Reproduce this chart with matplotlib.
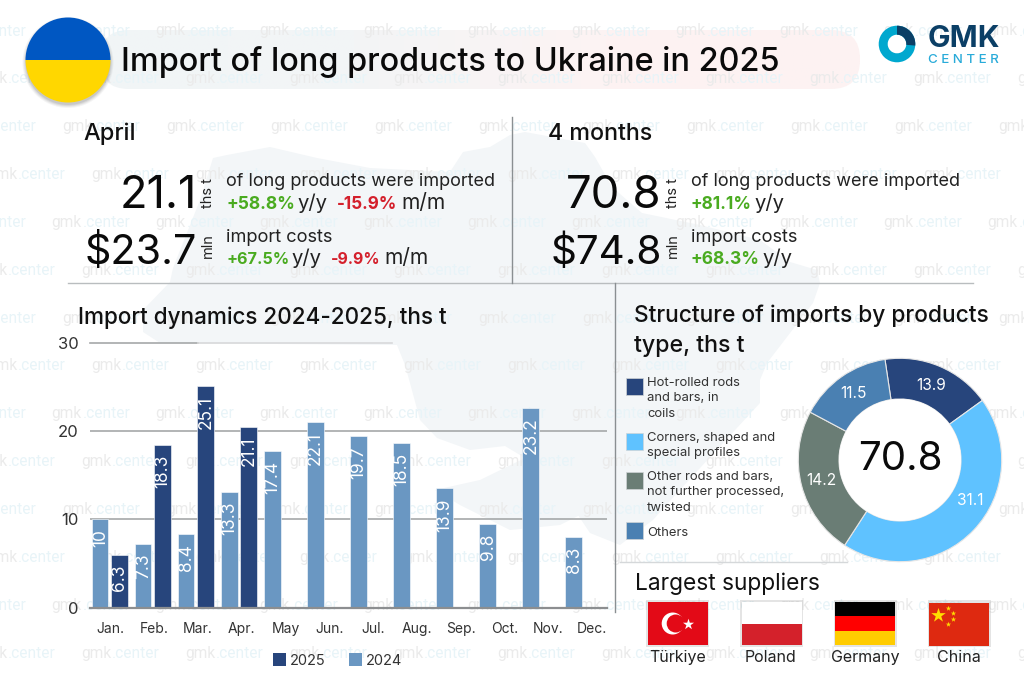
import numpy as np
import matplotlib
matplotlib.use("Agg")
import matplotlib.pyplot as plt
from matplotlib.patches import Circle, Rectangle, Polygon, FancyBboxPatch, Wedge
from matplotlib.colors import LinearSegmentedColormap
from matplotlib.textpath import TextPath
from matplotlib.font_manager import FontProperties

FONT = "Inter"
plt.rcParams['font.family'] = [FONT, 'DejaVu Sans']

months = ["Jan.", "Feb.", "Mar.", "Apr.", "May", "Jun.", "Jul.", "Aug.", "Sep.", "Oct.", "Nov.", "Dec."]
labels_2024 = ["10", "7.3", "8.4", "13.3", "17.4", "22.1", "19.7", "18.5", "13.9", "9.8", "23.2", "8.3"]
labels_2025 = ["6.3", "18.3", "25.1", "21.1"]
# bar lengths as drawn in the reference (they differ slightly from the printed labels)
bars_2024 = [10.0, 7.24, 8.3, 13.1, 17.76, 21.0, 19.4, 18.6, 13.5, 9.5, 22.66, 8.0]
bars_2025 = [5.96, 18.4, 25.07, 20.5]
y_ticks = [0, 10, 20, 30]

struct_names = ["Hot-rolled rods\nand bars, in\ncoils", "Corners, shaped and\nspecial profiles",
                "Other rods and bars,\nnot further processed,\ntwisted", "Others"]
struct_labels = ["13.9", "31.1", "14.2", "11.5"]
struct_drawn = [12.3, 31.2, 16.7, 10.5]
struct_total = "70.8"
suppliers = ["Türkiye", "Poland", "Germany", "China"]

C_25, C_24 = "#27457c", "#6a97c2"
C_STRUCT = ["#27457c", "#5fc2ff", "#6a7d75", "#4a80b2"]
GREEN, RED = "#4aab20", "#d4202c"
INK = "#111111"

fig = plt.figure(figsize=(10.24, 6.83), dpi=100, facecolor="white")
bg = fig.add_axes([0, 0, 1, 1])
bg.set_xlim(0, 1024); bg.set_ylim(683, 0); bg.axis("off")


def T(x, y, s, width=None, size=None, color=INK, weight="normal", ha="left", va="baseline",
      rotation=0, z=6, family=FONT):
    if width is not None:
        fp = FontProperties(family=family, weight=weight, size=100)
        w100 = TextPath((0, 0), s, prop=fp).get_extents().width * 100 / 72
        size = 100 * width / w100
    return bg.text(x, y, s, fontsize=size, color=color, fontweight=weight, ha=ha, va=va,
                   rotation=rotation, zorder=z, family=family)


# --- Ukraine map silhouette (decorative background)
map_outline = [(213,158),(227,155),(270,147),(317,158),(370,168),(450,172),(463,152),(490,147),(510,135),
               (525,132),(585,143),(595,157),(612,187),(642,213),(700,225),(760,240),(790,262),(817,270),
               (820,283),(813,303),(787,337),(767,363),(760,380),(760,403),(677,493),(653,520),(620,545),
               (590,533),(570,503),(590,510),(560,525),(510,530),(460,505),(435,490),(480,480),(525,458),
               (505,446),(470,450),(437,438),(420,420),(410,383),(405,365),(397,345),(160,343),(143,332),
               (143,310),(170,282),(173,268),(200,200)]
bg.add_patch(Polygon(map_outline, closed=True, fc="#f3f6f8", ec="none", zorder=1))

# --- title banner with a soft gradient
cmap = LinearSegmentedColormap.from_list("b", ["#f1f5f7", "#f3f5f6", "#fdf3f3", "#fdf2f2"])
im = bg.imshow(np.linspace(0, 1, 256)[None, :], extent=(100, 860, 89, 30), cmap=cmap, aspect="auto", zorder=1.5)
pill = FancyBboxPatch((100, 30), 760, 59, boxstyle="round,pad=0,rounding_size=29", fc="none", ec="none")
bg.add_patch(pill)
im.set_clip_path(pill)
bg.set_xlim(0, 1024); bg.set_ylim(683, 0)

# --- watermark
offs = [51.7, 81, 62, 91]
for r in range(14):
    y = 31 + 47.85 * r
    off = offs[r % 4]
    for c in range(-1, 10):
        x = off + 104 * c
        bg.text(x, y, "gmk", fontsize=11.2, color="#ebebeb", family="Roboto", ha="left", va="center", zorder=2)
        bg.text(x + 31, y, ".center", fontsize=11.2, color="#e8f4f8", family="Roboto", ha="left", va="center", zorder=2)

# --- flag circle
for dr, a in [(3, .06), (2, .08), (1, .10), (0, .12)]:
    bg.add_patch(Circle((68, 62.5), 42.5 + dr, fc="#555555", alpha=a, ec="none", zorder=3))
bg.add_patch(Wedge((68, 60), 42.5, 180, 360, fc="#0057c2", ec="none", zorder=4))
bg.add_patch(Wedge((68, 60), 42.5, 0, 180, fc="#ffd700", ec="none", zorder=4))

# --- logo
bg.add_patch(Wedge((897, 44), 18.3, 0, 360, width=9, fc="#00a8cf", ec="none", zorder=4))
bg.add_patch(Wedge((897, 44), 18.3, -90, 5, width=9, fc="#0b3f66", ec="none", zorder=5))
T(928, 47, "GMK", width=70, color="#0b3f66", weight="bold")
T(928, 63, "C E N T E R", width=70, color="#29abd9", weight="medium")

# --- headings
T(121, 71, "Import of long products to Ukraine in 2025", width=654, weight="medium", color="#0a0a0a")
T(83, 140, "April", width=50, weight="medium")
T(548, 140, "4 months", width=102, weight="medium")
T(78, 324, "Import dynamics 2024-2025, ths t", width=367, weight="medium")
T(634, 322, "Structure of imports by products", width=353, weight="medium")
T(634, 352, "type, ths t", width=110, weight="medium")
T(635, 590, "Largest suppliers", width=182, weight="normal")

# --- dividers
DIV = "#b9bdbf"
bg.plot([68, 973], [283, 283], color=DIV, lw=1, zorder=3)
bg.plot([511.5, 511.5], [117, 283], color="#8a8f92", lw=1, zorder=3)
bg.plot([615, 615], [283, 612], color="#8a8f92", lw=1, zorder=3)
bg.plot([620, 847], [562, 562], color="#d5d8da", lw=1, zorder=3)

# --- KPI blocks
def kpi(xnum_r, xdesc, big1, w1, big2, w2, unit_x, line1, line2a, line3, line4):
    T(xnum_r, 208, big1, width=w1, ha="right", color="#0a0a0a")
    T(xnum_r, 264, big2, width=w2, ha="right", color="#0a0a0a")
    T(unit_x, 208, "ths t", size=10.5, rotation=90, ha="center", va="bottom", color="#222222")
    T(unit_x, 258, "mln", size=10.5, rotation=90, ha="center", va="bottom", color="#222222")
    T(xdesc, 186, line1, width=268, color="#222222")
    T(xdesc, 242, line3, width=105, color="#222222")
    for y, pieces in ((209, line2a), (264, line4)):
        for s, x, w, col, wt in pieces:
            T(x, y, s, width=w, color=col, weight=wt)

kpi(197, 226, "21.1", 70, "$23.7", 108, 208, "of long products were imported",
    [("+58.8%", 226, 66, GREEN, "bold"), ("y/y", 297, 29, "#222222", "normal"),
     ("-15.9%", 337, 58, RED, "bold"), ("m/m", 401, 41, "#222222", "normal")],
    "import costs",
    [("+67.5%", 226, 60, GREEN, "bold"), ("y/y", 291, 29, "#222222", "normal"),
     ("-9.9%", 331, 47, RED, "bold"), ("m/m", 384, 41, "#222222", "normal")])
kpi(662, 691, "70.8", 91, "$74.8", 107, 673, "of long products were imported",
    [("+81.1%", 691, 58, GREEN, "bold"), ("y/y", 754, 29, "#222222", "normal")],
    "import costs",
    [("+68.3%", 691, 66, GREEN, "bold"), ("y/y", 762, 29, "#222222", "normal")])

# --- bar chart
x0, x1, y0, y30 = 90, 607, 607.7, 342.7
ax = fig.add_axes([x0 / 1024, (683 - y0) / 683, (x1 - x0) / 1024, (y0 - y30) / 683])
ax.patch.set_alpha(0)
ax.set_xlim(-0.5, 11.5); ax.set_ylim(0, 30)
for s in ax.spines.values():
    s.set_visible(False)
for v in y_ticks[1:3]:
    ax.axhline(v, color="#a6a8a9", lw=1.2, zorder=1)
ax.plot([-0.5, 2.0], [30, 30], color="#a6a8a9", lw=1.2, zorder=1, clip_on=False)
ax.plot([2.0, 6.5], [30, 30], color="#d8d9da", lw=1.2, zorder=1, clip_on=False)
ax.plot([-0.5, 11.5], [0, 0], color="#8c8e90", lw=1.6, zorder=4, clip_on=False)
pos = np.arange(12)
b24 = ax.bar(pos - 0.27, bars_2024, width=0.39, color=C_24, ec="white", lw=0.4, zorder=3)
b25 = ax.bar(pos[:4] + 0.18, bars_2025, width=0.39, color=C_25, ec="white", lw=0.4, zorder=3)
for bars, labs in ((b24, labels_2024), (b25, labels_2025)):
    for r, lab in zip(bars, labs):
        ax.annotate(lab, (r.get_x() + r.get_width() / 2, r.get_height()), xytext=(0.3, -7),
                    textcoords="offset points", rotation=90, ha="center", va="top",
                    color="white", fontsize=12.5, zorder=5)
ax.set_yticks(y_ticks)
ax.set_yticklabels([str(v) for v in y_ticks], fontsize=12, color="#333333")
ax.tick_params(axis="y", length=0, pad=8)
ax.set_xticks(pos * 1.017 - 0.03)
ax.set_xticklabels(months, fontsize=10, color="#333333")
ax.tick_params(axis="x", length=0, pad=10)
bg.add_patch(Rectangle((273, 653), 13, 13, fc=C_25, ec="none", zorder=5))
bg.add_patch(Rectangle((349, 653), 13, 13, fc=C_24, ec="none", zorder=5))
T(290, 665, "2025", size=10.5, color="#333333")
T(366, 665, "2024", size=10.5, color="#333333")

# --- donut
cx, cy, half = 900, 460, 110
dn = fig.add_axes([(cx - half) / 1024, (683 - cy - half) / 683, 2 * half / 1024, 2 * half / 683])
dn.patch.set_alpha(0)
R, r_in = 101.7 / half, 61 / half
wedges, _ = dn.pie(struct_drawn, colors=C_STRUCT, startangle=98.5, counterclock=False, radius=R,
                   wedgeprops=dict(width=R - r_in, ec="#e6e6e6", lw=0.8))
dn.set_xlim(-1, 1); dn.set_ylim(-1, 1)
dn.add_patch(Circle((0, 0), r_in, fc="white", ec="none", zorder=3))
shift = [0, 13.5, 0, 0]
for w, lab, sh in zip(wedges, struct_labels, shift):
    a = np.deg2rad((w.theta1 + w.theta2) / 2 + sh)
    rr = (R + r_in) / 2
    dn.text(rr * np.cos(a), rr * np.sin(a), lab, color="white", fontsize=11.2, ha="center", va="center", zorder=5)
dn.text(0, 0, struct_total, color="#0a0a0a", fontsize=29, ha="center", va="center", zorder=5)

# --- donut legend
sq_y = [378, 433, 472, 522]
txt_y = [386, 441, 480, 536]
for c, n, sy, ty in zip(C_STRUCT, struct_names, sq_y, txt_y):
    bg.add_patch(Rectangle((625.7, sy), 17, 17, fc=c, ec="#d0d4d6", lw=0.5, zorder=5))
    for k, line in enumerate(n.split("\n")):
        T(647, ty + k * 15.4, line, size=9.4, color="#333333")

# --- supplier flags
fy0, fh, fw = 602, 43, 60
fx = [647.7, 741.5, 835, 929]
for x in fx:
    bg.add_patch(Rectangle((x - 1.5, fy0 - 2), fw + 3, fh + 3.5, fc="#888888", alpha=.22, ec="none", zorder=4))
# Türkiye
bg.add_patch(Rectangle((fx[0], fy0), fw, fh, fc="#e30a17", ec="none", zorder=5))
bg.add_patch(Circle((fx[0] + 25, fy0 + 21.5), 11, fc="white", ec="none", zorder=6))
bg.add_patch(Circle((fx[0] + 28, fy0 + 21.5), 9, fc="#e30a17", ec="none", zorder=6))
bg.scatter([fx[0] + 40.5], [fy0 + 21.5], marker="*", s=70, c="white", linewidths=0, zorder=6)
# Poland
bg.add_patch(Rectangle((fx[1], fy0), fw, fh / 2, fc="white", ec="none", zorder=5))
bg.add_patch(Rectangle((fx[1], fy0 + fh / 2), fw, fh / 2, fc="#d4212b", ec="none", zorder=5))
# Germany
for k, c in enumerate(["#000000", "#ff0000", "#ffcc00"]):
    bg.add_patch(Rectangle((fx[2], fy0 + k * fh / 3), fw, fh / 3, fc=c, ec="none", zorder=5))
# China
bg.add_patch(Rectangle((fx[3], fy0 + 1), fw, fh, fc="#de2910", ec="none", zorder=5))
bg.scatter([fx[3] + 9], [fy0 + 13], marker="*", s=120, c="#ffde00", linewidths=0, zorder=6)
bg.scatter([fx[3] + 19, fx[3] + 24, fx[3] + 24, fx[3] + 19], [fy0 + 6, fy0 + 11, fy0 + 17, fy0 + 22],
           marker="*", s=16, c="#ffde00", linewidths=0, zorder=6)
for x, name in zip([678, 770.5, 865.5, 959], suppliers):
    T(x, 662, name, size=11.5, ha="center", color="#222222")

fig.savefig("out.png", dpi=100, facecolor="white")
